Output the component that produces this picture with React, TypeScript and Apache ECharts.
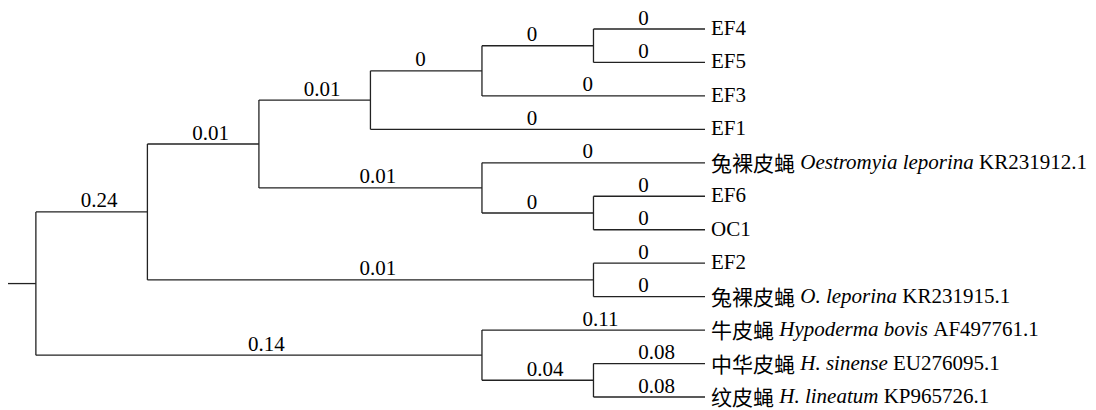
import React, { useEffect, useRef } from "react";
import * as echarts from "echarts";

// Tip labels, top to bottom: [chinese name, italic scientific name, accession / plain id]
const tipChinese = ["", "", "", "", "兔裸皮蝇", "", "", "", "兔裸皮蝇", "牛皮蝇", "中华皮蝇", "纹皮蝇"];
const tipScientific = ["", "", "", "", "Oestromyia leporina", "", "", "", "O. leporina", "Hypoderma bovis", "H. sinense", "H. lineatum"];
const tipPlain = ["EF4", "EF5", "EF3", "EF1", "KR231912.1", "EF6", "OC1", "EF2", "KR231915.1", "AF497761.1", "EU276095.1", "KP965726.1"];

// Topology with branch lengths (Newick; leaves are tip indices)
const newick =
  "((((((0:0,1:0):0,2:0):0,3:0):0.01,(4:0,(5:0,6:0):0):0.01):0.01,(7:0,8:0):0.01):0.24,(9:0.11,(10:0.08,11:0.08):0.04):0.14);";

const rootStub = 0.25; // length of the root stem, in level units

type Node = { leaf?: number; children: Node[]; len: string; x?: number; y?: number; h?: number };

function parseNewick(s: string): Node {
  let i = 0;
  function parseNode(): Node {
    const node: Node = { children: [], len: "" };
    if (s[i] === "(") {
      i++;
      node.children.push(parseNode());
      while (s[i] === ",") {
        i++;
        node.children.push(parseNode());
      }
      i++; // ')'
    } else {
      let t = "";
      while (s[i] !== ":" && s[i] !== "," && s[i] !== ")") t += s[i++];
      node.leaf = parseInt(t, 10);
    }
    if (s[i] === ":") {
      i++;
      let t = "";
      while (s[i] !== "," && s[i] !== ")" && s[i] !== ";") t += s[i++];
      node.len = t;
    }
    return node;
  }
  return parseNode();
}

function height(n: Node): number {
  n.h = n.leaf !== undefined ? 0 : Math.max(...n.children.map(height)) + 1;
  return n.h;
}

function layout(n: Node, maxH: number) {
  n.x = maxH - (n.h as number);
  if (n.leaf !== undefined) {
    n.y = n.leaf;
  } else {
    n.children.forEach((c) => layout(c, maxH));
    const ys = n.children.map((c) => c.y as number);
    n.y = (Math.min(...ys) + Math.max(...ys)) / 2;
  }
}

type Seg = [number, number, number, number, string, number];
function segments(n: Node, out: Seg[]) {
  if (n.leaf !== undefined) return;
  const ys = n.children.map((c) => c.y as number);
  out.push([n.x as number, Math.min(...ys), n.x as number, Math.max(...ys), "", -1]);
  n.children.forEach((c) => {
    out.push([n.x as number, c.y as number, c.x as number, c.y as number, c.len, c.leaf !== undefined ? c.leaf : -1]);
    segments(c, out);
  });
}

const FONT = "'Liberation Serif', 'Times New Roman', serif";
const CJK = "'Noto Sans CJK SC', sans-serif";
const FS = 21;

export default function App() {
  const ref = useRef<HTMLDivElement>(null);
  useEffect(() => {
    if (!ref.current) return;
    const chart = echarts.init(ref.current, undefined, { renderer: "svg" });
    const root = parseNewick(newick);
    const maxH = height(root);
    layout(root, maxH);
    const segs: Seg[] = [];
    segs.push([-rootStub, root.y as number, 0, root.y as number, "", -1]);
    segments(root, segs);

    const option = {
      animation: false,
      backgroundColor: "#ffffff",
      grid: { left: 8, top: 29, width: 697, height: 368, containLabel: false },
      xAxis: { type: "value", min: -rootStub, max: maxH, show: false },
      yAxis: { type: "value", min: 0, max: tipPlain.length - 1, inverse: true, show: false },
      series: [
        {
          type: "custom",
          coordinateSystem: "cartesian2d",
          clip: false,
          data: segs,
          renderItem: (params: any, api: any) => {
            const p1 = api.coord([api.value(0), api.value(1)]);
            const p2 = api.coord([api.value(2), api.value(3)]);
            const d = segs[params.dataIndex];
            const children: any[] = [
              {
                type: "line",
                shape: { x1: p1[0], y1: p1[1], x2: p2[0], y2: p2[1] },
                style: { stroke: "#222", lineWidth: 1.3 },
              },
            ];
            if (d[4] !== "") {
              children.push({
                type: "text",
                style: {
                  text: d[4],
                  x: (p1[0] + p2[0]) / 2 - 11,
                  y: p1[1] - 1,
                  align: "left",
                  verticalAlign: "bottom",
                  fontFamily: FONT,
                  fontSize: FS,
                  fill: "#000",
                },
              });
            }
            const leaf = d[5];
            if (leaf >= 0) {
              const parts: string[] = [];
              if (tipChinese[leaf]) parts.push(`{c|${tipChinese[leaf]}}{n| }`);
              if (tipScientific[leaf]) parts.push(`{i|${tipScientific[leaf]}}{n| }`);
              parts.push(`{n|${tipPlain[leaf]}}`);
              children.push({
                type: "text",
                style: {
                  text: parts.join(""),
                  x: p2[0] + 6,
                  y: p2[1] - 1,
                  align: "left",
                  verticalAlign: "middle",
                  fontFamily: FONT,
                  fontSize: FS,
                  fill: "#000",
                  rich: {
                    c: { fontFamily: CJK, fontSize: FS, fill: "#000" },
                    i: { fontFamily: FONT, fontSize: FS, fontStyle: "italic", fill: "#000" },
                    n: { fontFamily: FONT, fontSize: FS, fill: "#000" },
                  },
                },
              });
            }
            return { type: "group", children };
          },
        },
      ],
    };
    chart.setOption(option as any);
    return () => chart.dispose();
  }, []);
  return (
    <div
      ref={ref}
      style={{ position: "fixed", left: 0, top: 0, width: 1096, height: 410, background: "#fff" }}
    />
  );
}
